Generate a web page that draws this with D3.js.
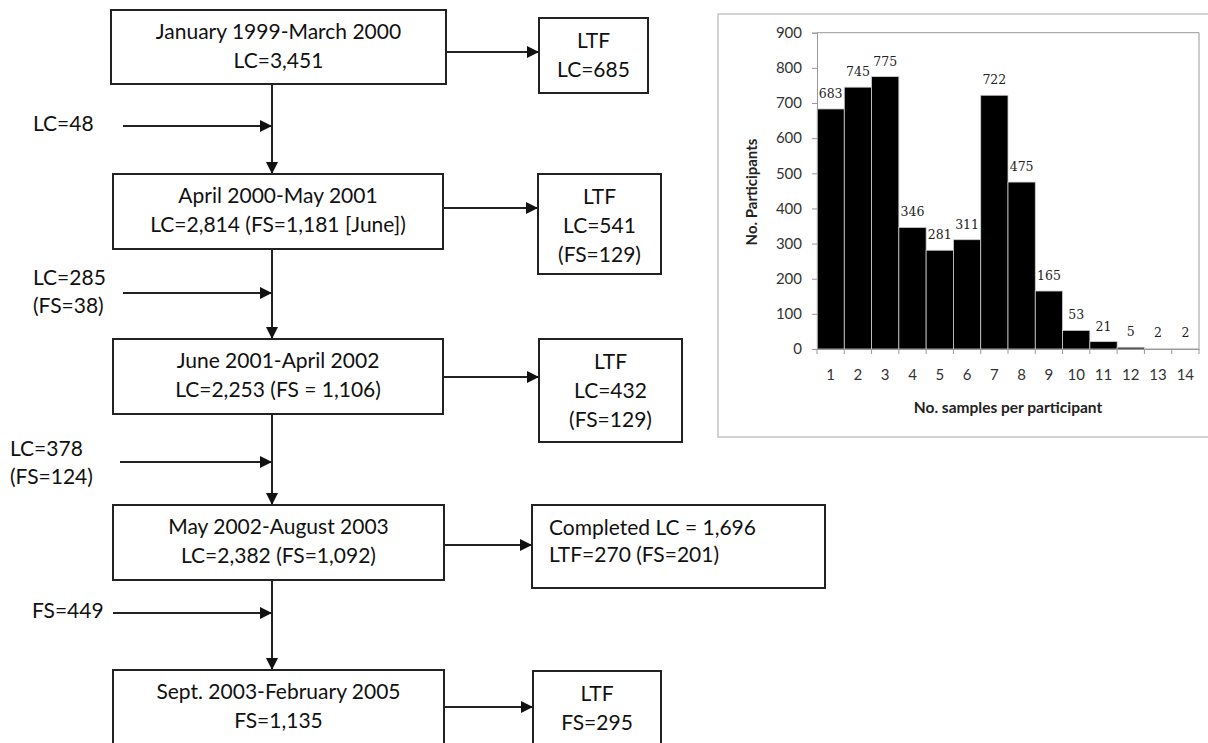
<!DOCTYPE html>
<html><head><meta charset="utf-8">
<script src="https://cdn.jsdelivr.net/npm/d3@7"></script>
<style>body{margin:0;background:#fff}svg{display:block}</style>
</head><body><div id="c"></div>
<script>
// ---- data ----
const sampleCounts = ["1","2","3","4","5","6","7","8","9","10","11","12","13","14"];
const participants = [683,745,775,346,281,311,722,475,165,53,21,5,2,2];
const yTicks = [0,100,200,300,400,500,600,700,800,900];
const mainBoxes = [
  ["January 1999-March 2000","LC=3,451"],
  ["April 2000-May 2001","LC=2,814 (FS=1,181 [June])"],
  ["June 2001-April 2002","LC=2,253 (FS = 1,106)"],
  ["May 2002-August 2003","LC=2,382 (FS=1,092)"],
  ["Sept. 2003-February 2005","FS=1,135"]
];
const sideBoxes = [
  ["LTF","LC=685"],
  ["LTF","LC=541","(FS=129)"],
  ["LTF","LC=432","(FS=129)"],
  ["Completed LC = 1,696","LTF=270 (FS=201)"],
  ["LTF","FS=295"]
];
const entries = [
  ["LC=48"],
  ["LC=285","(FS=38)"],
  ["LC=378","(FS=124)"],
  ["FS=449"]
];

// ---- layout ----
const W=1208,H=743;
const svg=d3.select("#c").append("svg").attr("width",W).attr("height",H);
const defs=svg.append("defs");
defs.append("marker").attr("id","ah").attr("viewBox","0 0 10 10").attr("refX",10).attr("refY",5)
  .attr("markerWidth",12).attr("markerHeight",12).attr("markerUnits","userSpaceOnUse").attr("orient","auto")
  .append("path").attr("d","M0,0L10,5L0,10Z").attr("fill","#111");

const FONT="Lato, 'Open Sans', sans-serif";
const mainL=[{x:111,y:10,w:335,h:74},{x:113,y:174,w:330,h:75},{x:113,y:339,w:330,h:75},{x:113,y:505,w:331,h:75},{x:113,y:670,w:331,h:90}];
const sideL=[{x:539,y:18,w:109,h:75,a:52},{x:538,y:174,w:123,h:100,a:208},{x:539,y:339,w:143,h:103,a:377},{x:532,y:505,w:293,h:83,a:545,left:true},{x:533,y:671,w:128,h:90,a:707}];
const entryL=[{ty:126,ay:126,x0:123,tx:33},{ty:280,ay:293,x0:123,tx:33},{ty:451,ay:462,x0:120,tx:10},{ty:613,ay:613,x0:113,tx:32}];
const vx=272;
const g=svg.append("g").attr("font-family",FONT).attr("font-size",21).attr("fill","#111");
const stroke="#222";

mainBoxes.forEach((lines,i)=>{
  const b=mainL[i];
  g.append("rect").attr("x",b.x).attr("y",b.y).attr("width",b.w).attr("height",b.h).attr("fill","#fff").attr("stroke",stroke).attr("stroke-width",2);
  lines.forEach((t,j)=>g.append("text").attr("x",b.x+b.w/2).attr("y",b.y+24+j*29).attr("text-anchor","middle").attr("dominant-baseline","middle").text(t));
  if(i<mainBoxes.length-1){
    g.append("line").attr("x1",vx).attr("x2",vx).attr("y1",b.y+b.h).attr("y2",mainL[i+1].y).attr("stroke",stroke).attr("stroke-width",2).attr("marker-end","url(#ah)");
  }
});
sideBoxes.forEach((lines,i)=>{
  const b=sideL[i], m=mainL[i];
  g.append("rect").attr("x",b.x).attr("y",b.y).attr("width",b.w).attr("height",b.h).attr("fill","#fff").attr("stroke",stroke).attr("stroke-width",2);
  lines.forEach((t,j)=>{
    g.append("text").attr("x",b.left?b.x+17:b.x+b.w/2).attr("y",b.y+24.5+j*(b.left?27:29))
      .attr("text-anchor",b.left?"start":"middle").attr("dominant-baseline","middle").text(t);
  });
  g.append("line").attr("x1",m.x+m.w).attr("x2",b.x).attr("y1",b.a).attr("y2",b.a).attr("stroke",stroke).attr("stroke-width",2).attr("marker-end","url(#ah)");
});
entries.forEach((lines,i)=>{
  const e=entryL[i];
  lines.forEach((t,j)=>g.append("text").attr("x",e.tx).attr("y",e.ty+j*28).attr("dominant-baseline","middle").text(t));
  g.append("line").attr("x1",e.x0).attr("x2",vx).attr("y1",e.ay).attr("y2",e.ay).attr("stroke",stroke).attr("stroke-width",2).attr("marker-end","url(#ah)");
});

// ---- bar chart ----
svg.append("rect").attr("x",718).attr("y",14).attr("width",492).attr("height",423).attr("fill","#fff").attr("stroke","#c4c4c4").attr("stroke-width",1.5);
const pl=817,pr=1199,pt=32.7,pb=349;
const x=d3.scaleBand().domain(sampleCounts).range([pl,pr]).padding(0);
const y=d3.scaleLinear().domain([0,900]).range([pb,pt]);
const bc=svg.append("g");
bc.append("path").attr("d",`M${pl},${pt}H${pr}V${pb}`).attr("fill","none").attr("stroke","#999").attr("stroke-width",1);
bc.selectAll("rect.bar").data(participants).join("rect").attr("class","bar")
  .attr("x",(d,i)=>x(sampleCounts[i])).attr("width",x.bandwidth())
  .attr("y",d=>y(d)).attr("height",d=>pb-y(d))
  .attr("fill","#000").attr("stroke","#d0d0d0").attr("stroke-width",0.8);
const ya=d3.axisLeft(y).tickValues(yTicks).tickSize(5).tickPadding(10);
const yg=bc.append("g").attr("transform",`translate(${pl},0)`).call(ya);
yg.selectAll("text").attr("font-family",FONT).attr("font-size",15).attr("fill","#333");
yg.selectAll("line,path").attr("stroke","#999");
const xa=d3.axisBottom(x).tickSize(0).tickPadding(20);
const xg=bc.append("g").attr("transform",`translate(0,${pb})`).call(xa);
xg.select("path").attr("stroke","#999");
xg.selectAll("text").attr("font-family",FONT).attr("font-size",15).attr("fill","#333");
bc.selectAll("line.bt").data(d3.range(sampleCounts.length+1)).join("line").attr("class","bt")
  .attr("x1",i=>pl+i*x.step()).attr("x2",i=>pl+i*x.step()).attr("y1",pb).attr("y2",pb+5).attr("stroke","#999");
bc.selectAll("text.val").data(participants).join("text").attr("class","val")
  .attr("x",(d,i)=>x(sampleCounts[i])+x.bandwidth()/2).attr("y",d=>y(d)-11)
  .attr("text-anchor","middle").attr("font-family","'DejaVu Serif', serif").attr("font-size",12.5).attr("fill","#222")
  .text(d=>d);
bc.append("text").attr("transform",`translate(757,192) rotate(-90)`).attr("text-anchor","middle")
  .attr("font-family",FONT).attr("font-weight","bold").attr("font-size",15).attr("fill","#222").text("No. Participants");
bc.append("text").attr("x",1008).attr("y",413).attr("text-anchor","middle")
  .attr("font-family",FONT).attr("font-weight","bold").attr("font-size",15.5).attr("fill","#222").text("No. samples per participant");
</script></body></html>
